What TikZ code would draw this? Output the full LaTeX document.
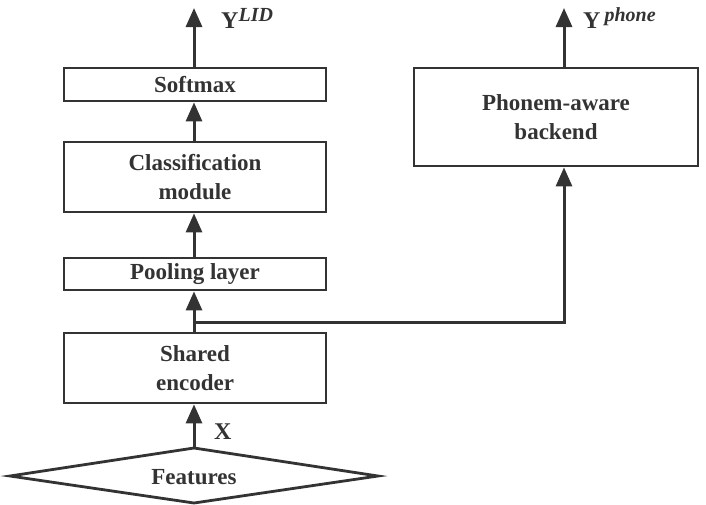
\documentclass[tikz,border=0pt]{standalone}
\usepackage{fontspec}
\setmainfont{Liberation Serif}
\usetikzlibrary{arrows.meta}
\definecolor{ink}{HTML}{333333}
\begin{document}
\begin{tikzpicture}[x=1pt,y=-1pt,
  box/.style={draw=ink,line width=2.8pt,rectangle,inner sep=0pt,align=center,font=\fontsize{23}{29}\selectfont\bfseries,text=ink},
  conn/.style={draw=ink,line width=3pt,-{Triangle[length=19pt,width=16pt]}},
  plain/.style={draw=ink,line width=3pt},
  lbl/.style={font=\fontsize{24}{28}\selectfont\bfseries,text=ink,inner sep=0pt}]
\useasboundingbox (0,0) rectangle (706,504);
\node[box,minimum width=262pt,minimum height=33pt] (soft) at (195,84.5) {Softmax};
\node[box,minimum width=262pt,minimum height=70pt] (cls) at (195,177) {Classification\\module};
\node[box,minimum width=262pt,minimum height=32pt] (pool) at (195,274) {Pooling layer};
\node[box,minimum width=262pt,minimum height=70pt] (enc) at (195,368) {Shared\\encoder};
\node[box,minimum width=284pt,minimum height=98pt] (back) at (556,117) {Phonem-aware\\backend};
% features diamond
\coordinate (ftop) at (194,448);
\draw[ink,line width=2.8pt,line join=miter] (10,476) -- (ftop) -- (378,476) -- (194,503) -- cycle;
\node[font=\fontsize{23}{29}\selectfont\bfseries,text=ink] (feat) at (194,477) {Features};
% connectors
\draw[conn] (ftop) -- (enc.south -| ftop);
\node[lbl,anchor=west] (xl) at (214,432) {X};
\coordinate (split) at (194,322);
\draw[plain] (enc.north -| split) -- (split);
\draw[conn] (split) -- (pool.south -| split);
\draw[conn] (split) -| (back.south -| 564,0);
\draw[conn] (pool.north -| split) -- (cls.south -| split);
\draw[conn] (cls.north -| split) -- (soft.south -| split);
\coordinate (topl) at (194,8);
\draw[conn] (soft.north -| split) -- (topl);
\coordinate (topr) at (564,8);
\draw[conn] (back.north -| topr) -- (topr);
\node[lbl,anchor=west] (yl) at (221,18) {Y\raisebox{7pt}{\fontsize{20}{22}\selectfont\bfseries\itshape LID}};
\node[lbl,anchor=west] (yp) at (583,18) {Y\,\raisebox{7pt}{\fontsize{20}{22}\selectfont\bfseries\itshape phone}};
\end{tikzpicture}
\end{document}
